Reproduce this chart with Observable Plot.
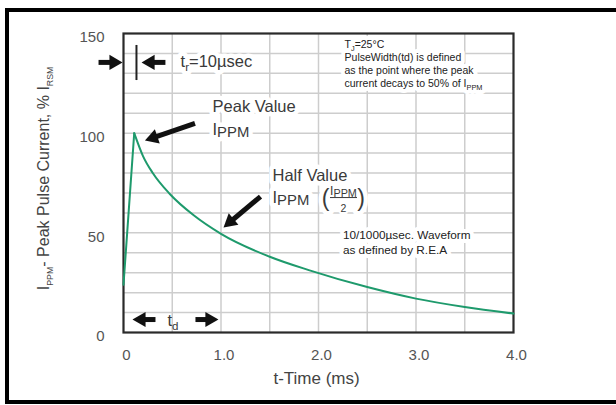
<!DOCTYPE html>
<html>
<head>
<meta charset="utf-8">
<script src="https://cdn.jsdelivr.net/npm/d3@7"></script>
<script src="https://cdn.jsdelivr.net/npm/@observablehq/plot@0.6"></script>
<style>
html, body { margin: 0; padding: 0; background: #fff; }
#wrap { position: relative; width: 616px; height: 405px; overflow: hidden; background: #fff; }
#chart { position: absolute; left: 0; top: 0; }
#border { position: absolute; left: 5px; top: 8px; width: 700px; height: 396px; box-sizing: border-box;
  border-left: 4px solid #000; border-top: 4px solid #000; border-bottom: 4px solid #000; pointer-events: none; }
</style>
</head>
<body>
<div id="wrap"><div id="chart"></div><div id="border"></div></div>
<script>
// ---- data ----
const timeMs     = [0, 0.11, 0.2, 0.3, 0.475, 0.72, 1.0, 1.5, 1.9, 2.5, 3.0, 3.5, 4.0];
const currentPct = [24, 100, 88.5, 80, 69.5, 58.8, 49.5, 38, 31.3, 22.8, 17, 12.8, 9.5];
const xTicks      = [0, 1, 2, 3, 4];
const xTickLabels = ["0", "1.0", "2.0", "3.0", "4.0"];
const yTicks      = [0, 50, 100, 150];
const xGrid = [0.5, 1, 1.5, 2, 2.5, 3, 3.5];
const yGrid = [10, 20, 30, 40, 50, 60, 70, 80, 90, 100, 110, 120, 130, 140];
const xTitle = "t-Time (ms)";
const yTitle = "I_<PPM>- Peak Pulse Current, % I_<RSM>";
const riseTimeLabel = "t_{r}=10µsec";
const pulseWidthLabel = "t_{d}";
const peakLabel = ["Peak Value", "I_[PPM]"];
const halfLabel = ["Half Value", "I_[PPM]"];
const noteLines = "T_{J}=25°C\nPulseWidth(td) is defined\nas the point where the peak\ncurrent decays to 50% of I_{PPM}";
const waveLines = "10/1000µsec. Waveform\nas defined by R.E.A";
// annotation arrows (tail -> tip), in data units
const arrows = [
  {x1: -0.256, y1: 135.5, x2: -0.01, y2: 135.5},
  {x1: 0.43,   y1: 135.5, x2: 0.185, y2: 135.5},
  {x1: 0.733,  y1: 104.9, x2: 0.22,  y2: 96.3},
  {x1: 1.405,  y1: 68.2,  x2: 1.026, y2: 52.7},
  {x1: 0.328,  y1: 6.5,   x2: 0.092, y2: 6.5},
  {x1: 0.738,  y1: 6.5,   x2: 0.974, y2: 6.5}
];

// ---- layout ----
const W = 616, H = 405, ML = 123, MR = 103, MT = 33, MB = 73;
const X = d3.scaleLinear([0, 4], [ML, W - MR]);
const Y = d3.scaleLinear([0, 150], [H - MB, MT]);

const curve = timeMs.map((t, i) => ({t, v: currentPct[i]}));
const rise = curve.slice(0, 2);
const decay = curve.slice(1);

// build filled arrow heads + shafts
const R = 5.6;
const yy = Math.sqrt(Math.PI * R * R / (3 * Math.sqrt(3)));
const shafts = [], heads = [];
for (const a of arrows) {
  const px1 = X(a.x1), py1 = Y(a.y1), px2 = X(a.x2), py2 = Y(a.y2);
  const L = Math.hypot(px2 - px1, py2 - py1);
  const ux = (px2 - px1) / L, uy = (py2 - py1) / L;
  const cx = px2 - ux * 2 * yy, cy = py2 - uy * 2 * yy;
  const bx = px2 - ux * (3 * yy - 1), by = py2 - uy * (3 * yy - 1);
  shafts.push({x1: a.x1, y1: a.y1, x2: X.invert(bx), y2: Y.invert(by)});
  heads.push({x: X.invert(cx), y: Y.invert(cy), rot: Math.atan2(ux, -uy) * 180 / Math.PI});
}

const textColor = "#3a3a3a";
// annotation texts: each drawn as a white halo underneath and the text on top
const notes = [
  [[riseTimeLabel],   {x: 0.585, y: 136, textAnchor: "start", fontSize: 16.5, fill: textColor}, 9],
  [[peakLabel[0]],    {x: 0.913, y: 113.4, textAnchor: "start", fontSize: 16.5, fill: textColor}, 9],
  [[peakLabel[1]],    {x: 0.913, y: 101.8, textAnchor: "start", fontSize: 16.5, fill: textColor}, 9],
  [[halfLabel[0]],    {x: 1.528, y: 78.8, textAnchor: "start", fontSize: 16.5, fill: textColor}, 9],
  [[halfLabel[1]],    {x: 1.528, y: 67.7, textAnchor: "start", fontSize: 16.5, fill: textColor}, 9],
  [["("],             {x: 2.072, y: 67.2, fontSize: 23, fill: textColor}, 9],
  [[")"],             {x: 2.436, y: 67.2, fontSize: 23, fill: textColor}, 9],
  [["I_[PPM]"],       {x: 2.256, y: 70.8, fontSize: 12, fill: textColor}, 4],
  [["2"],             {x: 2.256, y: 62.2, fontSize: 10.5, fill: textColor}, 4],
  [[noteLines],       {x: 2.267, y: 135, textAnchor: "start", lineAnchor: "middle", lineHeight: 1.24, fontSize: 10.5, fill: "#222"}, 8],
  [[waveLines],       {x: 2.25, y: 45.4, textAnchor: "start", lineAnchor: "middle", lineHeight: 1.2, fontSize: 11.8, fill: "#222"}, 8]
];
const haloMarks = notes.map(([d, o, w]) => Plot.text(d, {...o, text: v => v, fill: "white", stroke: "white", strokeWidth: w, strokeLinejoin: "round"}));
const textMarks = notes.map(([d, o]) => Plot.text(d, {...o, text: v => v}));

const plot = Plot.plot({
  width: W, height: H,
  marginLeft: ML, marginRight: MR, marginTop: MT, marginBottom: MB,
  x: {domain: [0, 4], axis: null},
  y: {domain: [0, 150], axis: null},
  style: {fontFamily: "'Liberation Sans', Arial, sans-serif", color: "#444", background: "transparent"},
  marks: [
    Plot.ruleX(xGrid, {stroke: "#cdcdcd", strokeWidth: 1.5}),
    Plot.ruleY(yGrid, {stroke: "#cdcdcd", strokeWidth: 1.5}),
    // tick labels
    Plot.text(yTicks, {y: d => d, frameAnchor: "left", textAnchor: "end", dx: -19, dy: 4,
      text: d => String(d), fontSize: 15, fill: "#555"}),
    Plot.text(xTicks, {x: d => d, frameAnchor: "bottom", lineAnchor: "top", dx: 3, dy: 17,
      text: (d, i) => xTickLabels[i], fontSize: 15, fill: "#555"}),
    // axis titles
    Plot.text([xTitle], {x: 1.98, frameAnchor: "bottom", textAnchor: "middle", lineAnchor: "middle", dy: 46,
      text: d => d, fontSize: 17, fill: "#444"}),
    Plot.text([yTitle], {y: 77.3, frameAnchor: "left", textAnchor: "middle", lineAnchor: "middle", rotate: -90, dx: -80,
      text: d => d, fontSize: 16, fill: "#444"}),
    ...haloMarks,
    ...textMarks,
    Plot.ruleY([67.7], {x1: 2.123, x2: 2.4, stroke: textColor, strokeWidth: 1}),
    Plot.text([pulseWidthLabel], {x: 0.45, y: 6, textAnchor: "start", text: d => d,
      fontSize: 16.5, fill: textColor}),
    // frame
    Plot.frame({stroke: "#2a2a2a", strokeWidth: 2.2}),
    // waveform
    Plot.line(rise, {x: "t", y: "v", stroke: "#1e9a6c", strokeWidth: 2}),
    Plot.line(decay, {x: "t", y: "v", stroke: "#1e9a6c", strokeWidth: 2, curve: "monotone-x"}),
    // rise time marker
    Plot.ruleX([0.133], {y1: 126.4, y2: 144, stroke: "#222", strokeWidth: 2}),
    // arrows
    Plot.link(shafts, {x1: "x1", y1: "y1", x2: "x2", y2: "y2", stroke: "#111", strokeWidth: 5}),
    Plot.dot(heads, {x: "x", y: "y", rotate: "rot", symbol: "triangle", r: R, fill: "#111", stroke: "none"})
  ]
});
document.getElementById("chart").appendChild(plot);

// ---- subscripts: _{..} normal, _[..] near full size, _<..> tiny ----
function applySubs(root) {
  const NS = "http://www.w3.org/2000/svg";
  const leaves = [];
  root.querySelectorAll("text, tspan").forEach(el => {
    if (el.children.length === 0 && /_[\{\[<]/.test(el.textContent)) leaves.push(el);
  });
  for (const el of leaves) {
    const s = el.textContent;
    const re = /_(?:\{([^}]*)\}|\[([^\]]*)\]|<([^>]*)>)/g;
    el.textContent = "";
    let last = 0, m, restore = null;
    const add = (txt, attrs) => {
      const t = document.createElementNS(NS, "tspan");
      for (const k in attrs) t.setAttribute(k, attrs[k]);
      t.textContent = txt;
      el.appendChild(t);
    };
    while ((m = re.exec(s))) {
      if (m.index > last) {
        add(s.slice(last, m.index), restore ? {dy: restore} : {});
        restore = null;
      }
      let ratio, shift, txt;
      if (m[1] != null) { ratio = 0.7; shift = 0.28; txt = m[1]; }
      else if (m[2] != null) { ratio = 0.9; shift = 0.12; txt = m[2]; }
      else { ratio = 0.55; shift = 0.3; txt = m[3]; }
      add(txt, {"font-size": (ratio * 100) + "%", dy: (shift / ratio).toFixed(3) + "em"});
      restore = (-shift).toFixed(3) + "em";
      last = re.lastIndex;
    }
    if (last < s.length) add(s.slice(last), restore ? {dy: restore} : {});
  }
}
applySubs(plot);
</script>
</body>
</html>
